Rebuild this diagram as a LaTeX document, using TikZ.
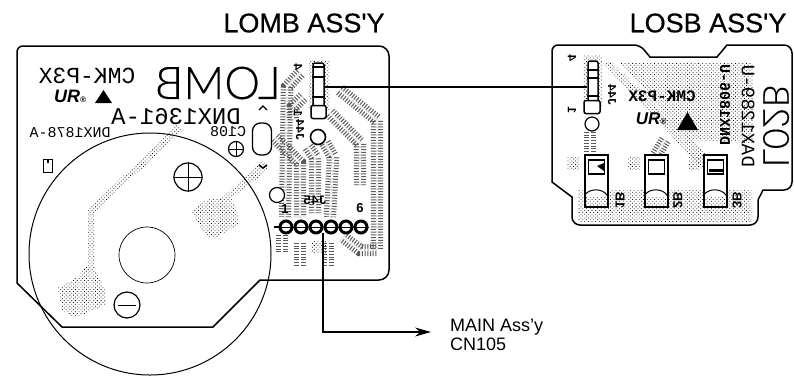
\documentclass[tikz,border=0pt]{standalone}
\usepackage{fontspec}
\setmainfont{Liberation Sans}
\setmonofont{Liberation Mono}
\newfontfamily\thinfont[FakeBold=0.4]{Lato Light}
\newfontfamily\titlefont[FakeBold=0.5]{Liberation Sans}
\usetikzlibrary{arrows.meta,patterns.meta}
\newcommand{\fsz}[1]{\fontsize{#1}{#1}\selectfont}
\tikzset{
    board/.style={draw=black, line width=1.5pt, rounded corners=6pt},
    trace/.style={draw=black!65, line width=5pt, double=white, double distance=2.4pt, dash pattern=on 1pt off 1.7pt},
    copper/.style={pattern={Dots[radius=.55pt, distance=2.6pt, angle=45]}, pattern color=black},
    hole/.style={circle, draw=black, line width=1.2pt, inner sep=0pt, fill=white},
    pin/.style={circle, draw=black, line width=3pt, fill=white, minimum size=12pt, inner sep=0pt},
    header/.style={rectangle, draw=black, line width=1.5pt, fill=white, rounded corners=2pt, inner sep=0pt},
    part/.style={rectangle, draw=black, line width=1.3pt, fill=white, inner sep=0pt},
    mirror/.style={xscale=-1, transform shape, inner sep=0pt, font=\ttfamily\fsz{#1}},
    sideways/.style={rotate=90, yscale=-1, transform shape, inner sep=0pt, font=\ttfamily\fsz{#1}},
    title/.style={inner sep=0pt, font=\titlefont\fsz{27}},
    wire/.style={draw=black, line width=1.2pt}
}

\begin{document}
\begin{tikzpicture}[x=1pt, y=-1pt]
  \useasboundingbox (0,0) rectangle (794,376);

  % titles
  \node [title] (lombtitle) at (304,23) {LOMB ASS'Y};
  \node [title] (losbtitle) at (708,23) {LOSB ASS'Y};

  % LOMB copper
  \fill [copper] (176,125) -- (88,210) -- (88,262) -- (78,277) -- (58,288) -- (62,310) -- (75,318)
    -- (105,305) -- (105,290) -- (95,270) -- (94,212) -- (184,130) -- cycle;
  \fill [copper] (262,160) -- (270,168) -- (232,198) -- (238,215) -- (238,225) -- (215,238)
    -- (205,235) -- (192,212) -- (205,200) -- (222,198) -- cycle;
  \draw [trace] (340,90) -- (377,120) -- (377,250) -- (360,250) -- (343,237);
  \draw [trace] (330,113) -- (360,143) -- (360,185);
  \draw [trace] (325,143) -- (333,157) -- (330,217);
  \draw [trace] (308,147) -- (315,157) -- (315,213);
  \draw [trace] (275,138) -- (300,163) -- (300,217);
  \draw [trace] (300,73) -- (287,87) -- (285,217);
  \draw [trace] (303,97) -- (293,107) -- (293,120);
  \draw [trace] (282,235) -- (282,252);
  \draw [trace] (300,243) -- (300,265);
  \draw [trace] (328,243) -- (328,265);
  \fill [copper] (311,241) rectangle (326,252);
  \fill [copper] (309,60) rectangle (329,110);

  % LOMB outline
  \draw [board] (17,283) -- (17,46) [rounded corners=10pt] -- (389,46)
    -- (389,280) [sharp corners] -- (260,280) -- (213,327) -- (62,327) -- cycle;

  % LOMB disc
  \draw [line width=1pt] (150,254) circle (121);
  \node [hole, minimum size=56pt, line width=.7pt] (centre) at (147,255) {};
  \node [hole, minimum size=28pt] (plus) at (188,177) {};
  \draw (plus.north) -- (plus.south) (plus.west) -- (plus.east);
  \node [hole, minimum size=26pt] (minus) at (127,305) {};
  \draw [line width=1pt, shorten >=5pt, shorten <=5pt] (minus.west) -- (minus.east);
  \node [hole, minimum size=15pt] (smallplus) at (236,149) {};
  \draw [line width=1pt] (smallplus.north) -- (smallplus.south) (smallplus.west) -- (smallplus.east);
  \node [hole, minimum size=15pt, line width=1.6pt] (lombvia) at (318,137) {};
  \node [hole, minimum size=15pt] (lombhole) at (277,195) {};
  \node [part, rounded corners=8pt, minimum width=19pt, minimum height=32pt, fill=none] (lombcap) at (262,139) {};
  \draw [line width=1.2pt] (259,110) -- (263,106) -- (267,110);
  \draw [line width=1.6pt] (259,165) -- (263,168) -- (267,165);

  % LOMB printing
  \node [mirror=23] (lombmodel) at (87,76) {CMK-P3X};
  \node [mirror=43, font=\thinfont\fsz{45}] (lombname) at (218,83) {LOMB};
  \node [mirror=24] (lombpart) at (176,117) {DNX1361-A};
  \node [mirror=15] (lombsheet) at (70,133) {DNX1878-A};
  \node [mirror=15] (capname) at (228,132) {C108};
  \node [inner sep=0pt, font=\bfseries\itshape\fsz{18}] (lombur) at (70,96) {UR\fsz{8}®};
  \fill (95,103) -- (112,103) -- (103.5,90) -- cycle;
  \node [part, minimum width=9pt, minimum height=13pt] (lombmark) at (48,166) {};
  \draw [line width=1.2pt] (lombmark.north) -- ++(0,4);
  \node [mirror=13, font=\bfseries\ttfamily\fsz{13}] (labelj) at (315,200) {J45};
  \node [inner sep=0pt, font=\bfseries\fsz{13}] (labelone) at (285,209) {1};
  \node [inner sep=0pt, font=\bfseries\fsz{13}] (labelsix) at (360,208) {6};
  \node [sideways=12, font=\bfseries\ttfamily\fsz{12}] (labeljtop) at (300,130) {J44};
  \node [sideways=12, font=\bfseries\fsz{12}] (labelfour) at (298,67) {4};
  \node [sideways=12, font=\bfseries\fsz{12}] (labeltop) at (298,113) {1};

  % LOMB connectors
  \node [header, minimum width=11pt, minimum height=48pt] (lombconn) at (318.5,87) {};
  \node [header, minimum width=15pt, minimum height=13pt] (lombfoot) at (318.5,112) {};
  \foreach \y in {67,77,97}
    \draw [line width=1.6pt] (312,\y) -- (325,\y);
  \draw [line width=1.4pt] (274,227) -- (286,227);
  \foreach \i/\x in {1/286,2/301,3/316,4/331,5/346,6/361}
    \node [pin] (lombpin\i) at (\x,227) {};
  \foreach \i in {1,...,6}
    \draw [line width=1pt] (lombpin\i.west) -- (lombpin\i.east);

  % LOSB copper
  \fill [copper] (620,63) -- (753,63) -- (753,143) -- (690,140) -- cycle;
  \fill [copper] (578,190) -- (752,190) -- (752,222) -- (578,222) -- cycle;
  \fill [copper] (602,62) -- (612,62) -- (712,160) -- (702,168) -- cycle;
  \fill [copper] (583,55) rectangle (602,105);
  \draw [trace] (590,132) -- (590,155);
  \draw [trace] (665,140) -- (656,155);
  \foreach \x in {567,628,688}
    \fill [copper] (\x,157) rectangle +(12,12);

  % LOSB outline
  \draw [board] (552,182) -- (552,45) -- (640,45) [sharp corners] -- (650,57) -- (717,57) -- (727,45)
    [rounded corners=8pt] -- (792,45) -- (792,190) [sharp corners] -- (763,190) -- (758,200)
    [rounded corners=8pt] -- (758,225) -- (572,225) [sharp corners] -- (572,197) -- (552,182) -- cycle;

  % LOSB parts
  \foreach \n/\x in {one/596.5,two/656.5,three/715.5} {
    \node [part, minimum width=23pt, minimum height=52pt] (losbpart\n) at (\x,181) {};
    \node [part, minimum width=16pt, minimum height=14pt] (losbpad\n) at (\x,167) {};
    \draw [line width=1pt] (losbpart\n.south west) ++(0,-12) to [out=60, in=120] ++(23,0);
    \fill [copper] (losbpart\n.south west) rectangle ++(23,-10);
  }
  \fill (597,166) -- (604,163) -- (604,171) -- cycle;
  \fill (709,169) rectangle (724,172);

  % LOSB printing
  \node [mirror=16, font=\bfseries\ttfamily\fsz{16}] (losbmodel) at (662,96) {CMK-P3X};
  \node [inner sep=0pt, font=\bfseries\itshape\fsz{17}] (losbur) at (651,119) {UR\fsz{8}®};
  \fill (677,130) -- (698,130) -- (687.5,112) -- cycle;
  \node [sideways=14, font=\bfseries\ttfamily\fsz{15}] (losbsheet) at (725,105) {DNX1806-U};
  \node [sideways=19] (losbpart) at (748,116) {DAX1289-U};
  \node [sideways=35, font=\thinfont\fsz{36}] (losbname) at (776,126) {L02B};
  \node [sideways=12, font=\bfseries\fsz{12}] (losbfour) at (572,58) {4};
  \node [sideways=12, font=\bfseries\fsz{12}] (losbone) at (572,110) {1};
  \node [sideways=12, font=\bfseries\ttfamily\fsz{12}] (losbj) at (612,95) {J44};
  \node [sideways=12, font=\bfseries\fsz{13}] (labelb) at (620,200) {1B};
  \node [sideways=12, font=\bfseries\fsz{13}] (labelc) at (678,200) {2B};
  \node [sideways=12, font=\bfseries\fsz{13}] (labeld) at (737,200) {3B};

  % LOSB connector
  \node [header, minimum width=10pt, minimum height=52pt] (losbconn) at (593,87) {};
  \node [header, minimum width=16pt, minimum height=13pt] (losbfoot) at (592,107) {};
  \node [hole, minimum size=14pt] (losbvia) at (592,124) {};
  \foreach \y in {70,78,96}
    \draw [line width=1.2pt] (587,\y) -- (599,\y);

  % wires
  \draw [wire] (lombconn.east) -- (losbconn.west);
  \coordinate (mainstart) at (323,233);
  \coordinate (mainend) at (431,332);
  \node [inner sep=0pt, align=left, anchor=west, font=\fsz{18}] (maincn) at (450,335) {MAIN Ass'y\\[1pt]CN105};
  \draw [wire, -{Stealth[length=16pt,width=9pt]}] (mainstart) |- (mainend);
\end{tikzpicture}
\end{document}
